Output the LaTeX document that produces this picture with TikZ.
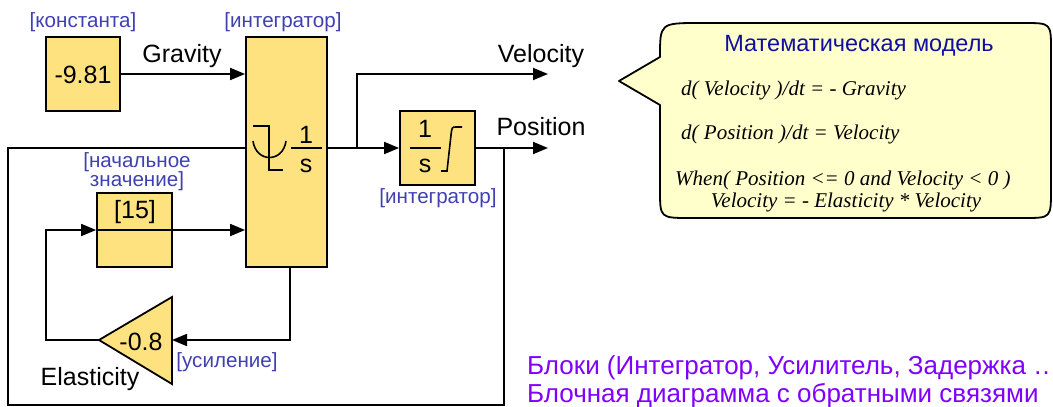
\documentclass[tikz,border=0pt]{standalone}
\usepackage{fontspec}
\setmainfont{Liberation Sans}
\newfontfamily\eqfont{Liberation Serif}
\usetikzlibrary{arrows.meta}
\definecolor{blockfill}{RGB}{255,226,128}
\definecolor{lblblue}{RGB}{64,64,176}
\definecolor{titleblue}{RGB}{16,16,160}
\definecolor{calloutfill}{RGB}{255,255,204}
\definecolor{violettext}{RGB}{128,0,255}
\begin{document}
\begin{tikzpicture}[x=1pt,y=-1pt,
  blockbox/.style={draw=black,line width=1.8pt,fill=blockfill,inner sep=0pt,rectangle},
  gainshape/.style={draw=black,line width=1.8pt,fill=blockfill,line join=miter},
  wire/.style={line width=1.8pt},
  arr/.style={wire,-{Triangle[length=15pt,width=12pt]}},
  lbl/.style={font=\fontsize{25}{30}\selectfont,inner sep=0pt,anchor=base},
  blulbl/.style={font=\fontsize{20.6}{24}\selectfont,text=lblblue,inner sep=0pt,anchor=base},
  eqtext/.style={font=\fontsize{21}{25}\selectfont\eqfont\itshape,inner sep=0pt,anchor=base west},
  notetext/.style={font=\fontsize{26}{30}\selectfont,text=violettext,inner sep=0pt,anchor=base west},
  sym/.style={line width=1.6pt},
]
\useasboundingbox (0,0) rectangle (1053,407);

% blocks
\node[blockbox,minimum width=74pt,minimum height=74pt] (const) at (83,74) {};
\node[blockbox,minimum width=81pt,minimum height=230pt] (int1) at (286.5,152) {};
\node[blockbox,minimum width=75pt,minimum height=74pt] (ic) at (134.5,230) {};
\node[blockbox,minimum width=75pt,minimum height=74pt] (int2) at (437.5,148) {};
\filldraw[gainshape] (172,297) -- (172,384) -- (99,340) -- cycle;
\coordinate (gainin) at (172,340);
\coordinate (gainout) at (99,340);

% block texts
\node[lbl] (constval) at (83,83) {-9.81};
\node[lbl] (icval) at (135,218) {[15]};
\node[lbl] (gainval) at (141,350) {-0.8};
\node[lbl] (int1num) at (306,143) {1};
\node[lbl] (int1den) at (306,172) {s};
\draw[sym] (291,148) -- (322,148);
\draw[sym] (253,126) -- (269,126) -- (269,170) -- (283,170);
\draw[sym] (253,141) .. controls (256,163) and (283,163) .. (286,141);
\node[lbl] (int2num) at (425,137) {1};
\node[lbl] (int2den) at (425,172) {s};
\draw[sym] (410,148) -- (441,148);
\draw[sym] (441,171) -- (447,171) -- (451,135) .. controls (452,127) .. (456,127) -- (462,127);

% connectors
\draw[arr] (const.east) -- (const.east -| int1.west);
\draw[arr] (int1.east |- int2.west) -- (int2.west);
\coordinate (vb) at (357,148);
\coordinate (vend) at (548,74);
\draw[arr] (vb) |- (vend);
\coordinate (pend) at (548,148);
\draw[arr] (int2.east) -- (pend);
\coordinate (pb) at (504,148);
\coordinate (fbr) at (504,405);
\coordinate (fbl) at (8,405);
\draw[wire] (pb) -- (fbr) -- (fbl) |- (int1.west |- pb);
\draw[arr] ([xshift=3.5pt]int1.south) |- (gainin);
\coordinate (gl) at (46,340);
\draw[arr] (gainout) -- (gl) |- (ic.west);
\draw[arr] (ic.west) -- (ic.west -| int1.west);

% labels
\node[blulbl] (lconst) at (83,27) {[константа]};
\node[blulbl] (lint1) at (283,27) {[интегратор]};
\node[blulbl] (lic1) at (137,167) {[начальное};
\node[blulbl] (lic2) at (137,186) {значение]};
\node[blulbl] (lgain) at (227,367) {[усиление]};
\node[blulbl] (lint2) at (438,203) {[интегратор]};
\node[lbl] (grav) at (182,62) {Gravity};
\node[lbl] (vel) at (541,62) {Velocity};
\node[lbl] (pos) at (541,135) {Position};
\node[lbl] (elas) at (90,385) {Elasticity};

% callout
\filldraw[draw=black,line width=1.8pt,fill=calloutfill,line join=round]
  (619,81) -- (660,105) -- (660,190) .. controls (660,218) .. (690,218)
  -- (1024,218) .. controls (1051,218) .. (1051,190)
  -- (1051,50) .. controls (1051,23) .. (1024,23)
  -- (700,23) .. controls (660,23) .. (660,57) -- cycle;
\node[font=\fontsize{23.5}{28}\selectfont,text=titleblue,inner sep=0pt,anchor=base] (title) at (859,51) {Математическая модель};
\node[eqtext] (eq1) at (681,95) {d( Velocity )/dt = - Gravity};
\node[eqtext] (eq2) at (681,139) {d( Position )/dt = Velocity};
\node[eqtext] (eq3) at (675,185) {When( Position <= 0 and Velocity < 0 )};
\node[font=\fontsize{21}{25}\selectfont\eqfont\itshape,inner sep=0pt,anchor=base] (eq4) at (846,207) {Velocity = - Elasticity * Velocity};

% bottom text
\begin{scope}
\clip (0,0) rectangle (1053,407);
\node[notetext] (note1) at (527,374) {Блоки (Интегратор, Усилитель, Задержка …};
\node[notetext] (note2) at (527,402) {Блочная диаграмма с обратными связями};
\end{scope}
\end{tikzpicture}
\end{document}
